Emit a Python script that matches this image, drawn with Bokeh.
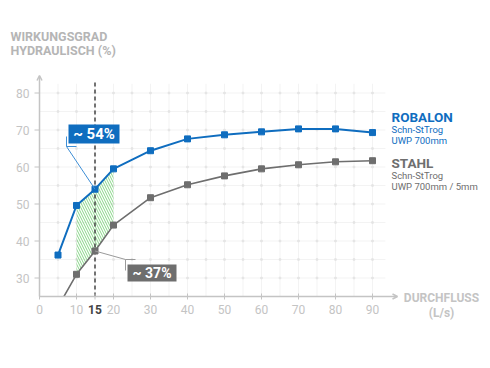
from bokeh.plotting import figure
from bokeh.models import Arrow, OpenHead
from bokeh.core.properties import value
from bokeh.embed import file_html
from bokeh.resources import INLINE

# ---- data ----
flow = [5, 10, 15, 20, 30, 40, 50, 60, 70, 80, 90]
robalon = [36.2, 49.6, 54.0, 59.5, 64.4, 67.6, 68.7, 69.5, 70.3, 70.3, 69.3]
stahl = [22.2, 31.0, 37.3, 44.3, 51.7, 55.2, 57.6, 59.5, 60.6, 61.4, 61.7]
hatch_x = [10, 15, 20]
x_ticks = [0, 10, 15, 20, 30, 40, 50, 60, 70, 80, 90]
y_ticks = [30, 40, 50, 60, 70, 80]
marker_x = 15
y_floor = 25

BLUE = "#0f6dbf"
GRAY = "#6e6e6e"
LIGHT = "#c4c4c4"
FONT = "Roboto"

# pixel geometry helpers (frame covers the whole canvas)
SX = 3.7
X0PX, Y0PX = 39, 296
def dx(px):
    return (px - X0PX) / SX
def dy(py):
    return y_floor + (Y0PX - py) / SX

p = figure(width=490, height=368, output_backend="svg", toolbar_location=None,
           x_range=(dx(0), dx(490)), y_range=(dy(368), dy(0)),
           min_border=0)
p.xaxis.visible = False
p.yaxis.visible = False
p.outline_line_color = None
p.xgrid.grid_line_color = None
p.ygrid.grid_line_color = None
p.background_fill_color = "white"
p.border_fill_color = "white"

# grid (manual, limited extent)
gx = [v for v in range(5, 95, 5)]
gy = [v for v in range(30, 85, 5)]
p.segment(x0=gx, y0=[y_floor] * len(gx), x1=gx, y1=[82.5] * len(gx), line_color="#f3f3f3", line_width=1)
p.segment(x0=[0] * len(gy), y0=gy, x1=[93.5] * len(gy), y1=gy, line_color="#f3f3f3", line_width=1)
dots_x = [a for a in gx for b in gy]
dots_y = [b for a in gx for b in gy]
p.scatter(dots_x, dots_y, marker="square", size=1.6, color="#e4e4e4")

# hatched area between curves
i0, i1 = flow.index(hatch_x[0]), flow.index(hatch_x[-1]) + 1
p.varea(x=flow[i0:i1], y1=stahl[i0:i1], y2=robalon[i0:i1], fill_alpha=0,
        hatch_pattern="left_diagonal_line", hatch_color="#86d686", hatch_scale=5, hatch_weight=1)

# dashed marker line
p.segment(x0=[marker_x], y0=[y_floor], x1=[marker_x], y1=[dy(82)], line_color="#444444",
          line_width=1.5, line_dash="4 3")

# series
p.line(flow, stahl, line_color=GRAY, line_width=1.6)
p.scatter(flow, stahl, marker="square", size=6, color=GRAY)
p.line(flow, robalon, line_color=BLUE, line_width=2)
p.scatter(flow, robalon, marker="square", size=6, color=BLUE)

# mask below the x axis (clips the series at the axis)
p.quad(left=[dx(0)], right=[dx(490)], bottom=[dy(368)], top=[y_floor], fill_color="white", line_color=None)

# axis arrows
p.add_layout(Arrow(x_start=0, y_start=y_floor, x_end=dx(397), y_end=y_floor, line_color=LIGHT, line_width=1.5,
                   end=OpenHead(size=5, line_color=LIGHT, line_width=1.5)))
p.add_layout(Arrow(x_start=0, y_start=y_floor, x_end=0, y_end=dy(75), line_color=LIGHT, line_width=1.5,
                   end=OpenHead(size=5, line_color=LIGHT, line_width=1.5)))

# ticks and tick labels
p.segment(x0=x_ticks, y0=[dy(293)] * len(x_ticks), x1=x_ticks, y1=[dy(299)] * len(x_ticks),
          line_color=LIGHT, line_width=1)
p.segment(x0=[dx(34)] * len(y_ticks), y0=y_ticks, x1=[0] * len(y_ticks), y1=y_ticks,
          line_color=LIGHT, line_width=1)
xl = [t for t in x_ticks if t != marker_x]
p.text(x=xl, y=[dy(309)] * len(xl), text=[str(t) for t in xl], text_align="center", text_baseline="middle",
       text_color=LIGHT, text_font=value(FONT), text_font_size="12px")
p.text(x=[marker_x], y=[dy(309)], text=[str(marker_x)], text_align="center", text_baseline="middle",
       text_color="#444444", text_font=value(FONT), text_font_size="12px", text_font_style="bold")
p.text(x=[dx(29)] * len(y_ticks), y=y_ticks, text=[str(t) for t in y_ticks], text_align="right",
       text_baseline="middle", text_color=LIGHT, text_font=value(FONT), text_font_size="12px")

def lab(x, y, t, color, size, bold=False, align="left"):
    p.text(x=[dx(x)], y=[dy(y)], text=[t], text_align=align, text_baseline="middle",
           text_color=color, text_font=value(FONT), text_font_size=size,
           text_font_style="bold" if bold else "normal")

# callout: ~54%
mi = flow.index(marker_x)
p.line([dx(66), marker_x], [dy(146), robalon[mi]], line_color="#3f8fd6", line_width=1)
p.line([dx(66), dx(66), dx(76)], [dy(136), dy(146), dy(146)], line_color="#3f8fd6", line_width=1)
p.quad(left=[dx(68)], right=[dx(119)], bottom=[dy(143)], top=[dy(124)], fill_color=BLUE, line_color=None)
lab(93.5, 133.5, "~ %d%%" % round(robalon[mi]), "white", "15px", True, "center")

# callout: ~37%
p.line([marker_x, dx(125), dx(135)], [stahl[mi], dy(259), dy(259)], line_color="#9a9a9a", line_width=1)
p.line([dx(125), dx(125)], [dy(259), dy(270)], line_color="#9a9a9a", line_width=1)
p.quad(left=[dx(127)], right=[dx(176)], bottom=[dy(281)], top=[dy(264)], fill_color=GRAY, line_color=None)
lab(151.5, 272.5, "~ %d%%" % round(stahl[mi]), "white", "14px", True, "center")

# title
lab(10, 36, "WIRKUNGSGRAD", "#b5b5b5", "12.5px", True)
lab(10, 50, "HYDRAULISCH (%)", "#b5b5b5", "12.5px", True)

# legend texts
lab(391, 116, "ROBALON", BLUE, "13.5px", True)
lab(391, 129, "Schn-StTrog", BLUE, "9.5px")
lab(391, 140, "UWP 700mm", BLUE, "9.5px")
lab(391, 162, "STAHL", GRAY, "13.5px", True)
lab(391, 175, "Schn-StTrog", GRAY, "9.5px")
lab(391, 186, "UWP 700mm / 5mm", GRAY, "9.5px")

# x axis title
lab(441, 297, "DURCHFLUSS", LIGHT, "12px", True, "center")
lab(441, 312, "(L/s)", LIGHT, "12px", True, "center")

open("out.html", "w").write(file_html(p, INLINE))
